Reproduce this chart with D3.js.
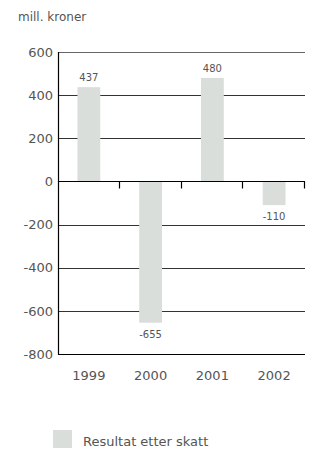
<!DOCTYPE html>
<html>
<head>
<meta charset="utf-8">
<script src="https://cdn.jsdelivr.net/npm/d3@7/dist/d3.min.js"></script>
<style>
  body { margin: 0; background: #fff; }
  text { font-family: "DejaVu Sans", sans-serif; fill: #555; }
</style>
</head>
<body>
<div id="chart"></div>
<script>
var years = ["1999", "2000", "2001", "2002"];
var resultat = [437, -655, 480, -110];
var yTicks = [600, 400, 200, 0, -200, -400, -600, -800];

var margin = {top: 52, right: 7, bottom: 96, left: 58},
    width = 312 - margin.left - margin.right,
    height = 450 - margin.top - margin.bottom;

var svg = d3.select("#chart")
    .append("svg")
    .attr("width", 312)
    .attr("height", 450);

// title
svg.append("text")
    .attr("x", 18)
    .attr("y", 21)
    .style("font-size", "12px")
    .text("mill. kroner");

var g = svg.append("g")
    .attr("transform", "translate(" + margin.left + "," + margin.top + ")");

var x = d3.scaleBand()
    .domain(years)
    .range([0, width])
    .paddingInner(0.63)
    .paddingOuter(0.315);

var y = d3.scaleLinear()
    .domain([-800, 600])
    .range([height, 0]);

// grid lines
g.selectAll(".grid")
    .data(yTicks.filter(function(d) { return d != 0 && d != -800; }))
    .enter()
    .append("line")
    .attr("x1", 0)
    .attr("x2", width)
    .attr("y1", function(d) { return Math.round(y(d)) + 0.5; })
    .attr("y2", function(d) { return Math.round(y(d)) + 0.5; })
    .style("stroke", function(d) { return d == 600 ? "#666" : "#333"; })
    .style("stroke-width", 1.2);

// bars
g.selectAll(".bar")
    .data(resultat)
    .enter()
    .append("rect")
    .attr("x", function(d, i) { return x(years[i]); })
    .attr("width", x.bandwidth())
    .attr("y", function(d) { return y(Math.max(0, d)); })
    .attr("height", function(d) { return Math.abs(y(d) - y(0)); })
    .style("fill", "#d9dedb");

// value labels
g.selectAll(".val")
    .data(resultat)
    .enter()
    .append("text")
    .attr("x", function(d, i) { return x(years[i]) + x.bandwidth() / 2; })
    .attr("y", function(d) { return d > 0 ? y(d) - 6 : y(d) + 15; })
    .attr("text-anchor", "middle")
    .style("font-size", "10px")
    .text(function(d) { return d < 0 ? "-" + Math.abs(d) : d; });

// zero line with ticks
var zero = Math.round(y(0)) + 0.5;
g.append("line")
    .attr("x1", 0).attr("x2", width)
    .attr("y1", zero).attr("y2", zero)
    .style("stroke", "#000").style("stroke-width", 1.2);

g.selectAll(".ztick")
    .data(years)
    .enter()
    .append("line")
    .attr("x1", function(d) { return Math.round(x(d) + x.bandwidth() / 2 + x.step() / 2) - 0.5; })
    .attr("x2", function(d) { return Math.round(x(d) + x.bandwidth() / 2 + x.step() / 2) - 0.5; })
    .attr("y1", zero)
    .attr("y2", zero + 7)
    .style("stroke", "#000").style("stroke-width", 1.2);

// left and bottom axis lines
g.append("line")
    .attr("x1", 0.5).attr("x2", 0.5)
    .attr("y1", Math.round(y(600))).attr("y2", Math.round(y(-800)) + 1)
    .style("stroke", "#000").style("stroke-width", 1.2);
g.append("line")
    .attr("x1", 0).attr("x2", width)
    .attr("y1", Math.round(y(-800)) + 0.5).attr("y2", Math.round(y(-800)) + 0.5)
    .style("stroke", "#000").style("stroke-width", 1.2);

// y labels
var yAxis = d3.axisLeft(y).tickValues(yTicks).tickSize(5)
    .tickFormat(function(d) { return d < 0 ? "-" + Math.abs(d) : d; });
var ya = g.append("g").call(yAxis);
ya.select(".domain").remove();
ya.selectAll("line").remove();
ya.selectAll("text")
    .attr("x", -5)
    .style("font-size", "13px")
    .style("font-family", "DejaVu Sans, sans-serif")
    .style("fill", "#555");

// x labels
var xAxis = d3.axisBottom(x).tickSize(0);
var xa = g.append("g")
    .attr("transform", "translate(0," + height + ")")
    .call(xAxis);
xa.select(".domain").remove();
xa.selectAll("text")
    .attr("dy", "1.8em")
    .style("font-size", "13px")
    .style("font-family", "DejaVu Sans, sans-serif")
    .style("fill", "#555");

// legend
svg.append("rect")
    .attr("x", 53)
    .attr("y", 430)
    .attr("width", 19)
    .attr("height", 18)
    .style("fill", "#d9dedb");
svg.append("text")
    .attr("x", 83)
    .attr("y", 446)
    .style("font-size", "13px")
    .text("Resultat etter skatt");
</script>
</body>
</html>
